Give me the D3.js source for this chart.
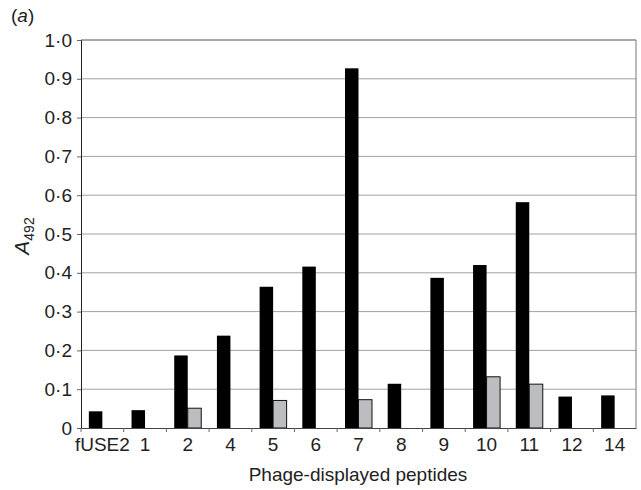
<!DOCTYPE html>
<html>
<head>
<meta charset="utf-8">
<script src="https://cdn.jsdelivr.net/npm/d3@7"></script>
<style>
body { margin: 0; background: #fff; }
svg { font-family: "Liberation Sans", Arial, sans-serif; }
</style>
</head>
<body>
<svg id="chart" width="641" height="490"></svg>
<script>
// Data
var categories = ["fUSE2", "1", "2", "4", "5", "6", "7", "8", "9", "10", "11", "12", "14"]
var blackValues = [0.043, 0.046, 0.187, 0.238, 0.364, 0.416, 0.927, 0.114, 0.387, 0.42, 0.582, 0.081, 0.084]
var greyValues = [0, 0, 0.051, 0, 0.071, 0, 0.073, 0, 0, 0.132, 0.113, 0, 0]
var yTicks = [0, 0.1, 0.2, 0.3, 0.4, 0.5, 0.6, 0.7, 0.8, 0.9, 1.0]

var svg = d3.select("#chart")
var mLeft = 81, mRight = 636, mTop = 40, mBottom = 428

var x = d3.scaleBand().domain(categories).range([mLeft, mRight])
var y = d3.scaleLinear().domain([0, 1]).range([mBottom, mTop])

var barW = 13.5
var inset = (x.bandwidth() - 2 * barW) / 2

// gridlines
svg.append("g")
    .selectAll("line")
    .data(yTicks.filter(d => d > 0 && d < 1))
    .enter().append("line")
    .attr("x1", mLeft).attr("x2", mRight)
    .attr("y1", d => y(d)).attr("y2", d => y(d))
    .style("stroke", "#a2a2a2")
    .style("stroke-width", "1px")

// frame top / right
svg.append("line").attr("x1", mLeft).attr("x2", mRight).attr("y1", y(1)).attr("y2", y(1))
    .style("stroke", "#555").style("stroke-width", "1px")
svg.append("line").attr("x1", mRight).attr("x2", mRight).attr("y1", y(1)).attr("y2", mBottom)
    .style("stroke", "#777").style("stroke-width", "1px")

// bars
svg.append("g")
    .selectAll("rect")
    .data(categories)
    .enter().append("rect")
    .attr("x", (d, i) => x(d) + inset)
    .attr("y", (d, i) => y(blackValues[i]))
    .attr("width", barW)
    .attr("height", (d, i) => mBottom - y(blackValues[i]))
    .style("fill", "#000")

svg.append("g")
    .selectAll("rect")
    .data(categories.filter((d, i) => greyValues[i] > 0))
    .enter().append("rect")
    .attr("x", d => x(d) + inset + barW)
    .attr("y", d => y(greyValues[categories.indexOf(d)]))
    .attr("width", barW)
    .attr("height", d => mBottom - y(greyValues[categories.indexOf(d)]))
    .style("fill", "#bcbdc1")
    .style("stroke", "#111")
    .style("stroke-width", "1px")

// y axis
var yAxis = d3.axisLeft(y)
    .tickValues(yTicks)
    .tickSize(4)
    .tickPadding(5)
    .tickFormat(d => d === 0 ? "0" : d3.format(".1f")(d).replace(".", "\u00b7"))
var gy = svg.append("g").attr("transform", "translate(" + mLeft + ",0)").call(yAxis)
gy.select(".domain").style("stroke", "#222")
gy.selectAll(".tick line").style("stroke", "#666")
gy.selectAll("text").style("font-size", "19px").style("fill", "#222")

// x axis
var xAxis = d3.axisBottom(x).tickSize(0).tickPadding(10)
var gx = svg.append("g").attr("transform", "translate(0," + mBottom + ")").call(xAxis)
gx.select(".domain").style("stroke", "#444")
gx.selectAll("text").style("font-size", "19px").style("fill", "#222")
// boundary ticks between categories
gx.selectAll(".sep")
    .data(categories)
    .enter().append("line")
    .attr("class", "sep")
    .attr("x1", d => x(d)).attr("x2", d => x(d))
    .attr("y1", 0).attr("y2", 4)
    .style("stroke", "#666")
svg.selectAll(".tick text").attr("font-family", null)

// titles
svg.append("text")
    .attr("x", 358).attr("y", 481)
    .attr("text-anchor", "middle")
    .style("font-size", "19px").style("fill", "#222")
    .text("Phage-displayed peptides")

var yt = svg.append("text")
    .attr("transform", "translate(29,236) rotate(-90)")
    .attr("text-anchor", "middle")
    .style("font-size", "21px").style("fill", "#222")
yt.append("tspan").style("font-style", "italic").text("A")
yt.append("tspan").attr("dy", 5).style("font-size", "14px").text("492")

var pa = svg.append("text").attr("x", 11).attr("y", 22).style("font-size", "19px").style("fill", "#222")
pa.append("tspan").text("(")
pa.append("tspan").style("font-style", "italic").text("a")
pa.append("tspan").text(")")
</script>
</body>
</html>
